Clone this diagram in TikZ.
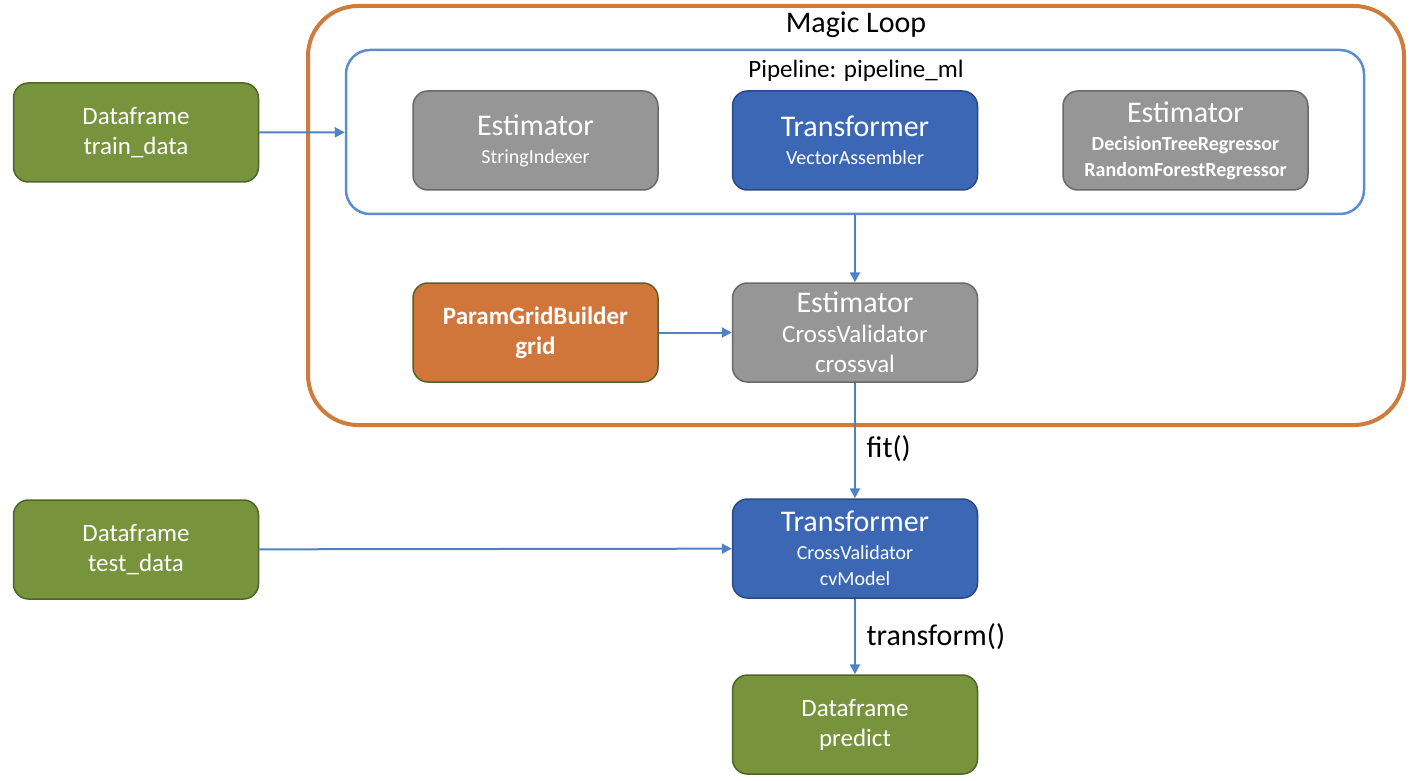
\documentclass[tikz,border=0pt]{standalone}
\usepackage{fontspec}
\setmainfont{Carlito}
\usetikzlibrary{arrows.meta}
\definecolor{dfgreen}{RGB}{119,147,60}
\definecolor{dfedge}{RGB}{80,100,40}
\definecolor{estgray}{RGB}{150,150,150}
\definecolor{estedge}{RGB}{105,105,105}
\definecolor{trblue}{RGB}{59,103,180}
\definecolor{tredge}{RGB}{42,72,130}
\definecolor{gridorange}{RGB}{208,118,58}
\definecolor{loopedge}{RGB}{208,122,60}
\definecolor{pipeedge}{RGB}{91,142,207}
\definecolor{flow}{RGB}{79,129,199}
\newcommand{\bigtxt}{\fontsize{15}{18}\selectfont}
\newcommand{\midtxt}{\fontsize{12.5}{15}\selectfont}
\newcommand{\smalltxt}{\fontsize{10}{12}\selectfont}
\begin{document}
\begin{tikzpicture}[x=0.5pt,y=-0.5pt,
  box/.style={draw, rounded corners=7.5pt, line width=0.75pt, minimum width=122.5pt,
    minimum height=49.5pt, align=center, text=white, font=\midtxt},
  frame/.style={draw=dfedge, fill=dfgreen, box},
  estbox/.style={draw=estedge, fill=estgray, box},
  trbox/.style={draw=tredge, fill=trblue, box},
  gridbox/.style={draw=dfedge, fill=gridorange, box},
  flow/.style={draw=flow, line width=1pt, -{Triangle[length=5pt,width=5pt]}}]
  \useasboundingbox (0,0) rectangle (1415,781);
  \node[draw=loopedge, line width=2pt, rounded corners=25pt, minimum width=548pt, minimum height=209.5pt] (loop) at (856,215.5) {};
  \node[font=\bigtxt] (looptitle) at (856,25) {Magic Loop};
  \node[draw=pipeedge, line width=1.25pt, rounded corners=12pt, fill=white, minimum width=509pt, minimum height=82pt] (pipe) at (855,132) {};
  \node[font=\midtxt] (pipetitle) at (856,71) {Pipeline: pipeline\_ml};
  \node[frame] (train) at (136,132.5) {Dataframe\\train\_data};
  \node[estbox] (indexer) at (535.5,140.5) {{\bigtxt Estimator}\\[-1pt]{\smalltxt StringIndexer}};
  \node[trbox] (assembler) at (855,140.5) {{\bigtxt Transformer}\\[-1pt]{\smalltxt VectorAssembler}};
  \node[estbox] (regressor) at (1185.5,140.5) {{\bigtxt Estimator}\\[-1pt]{\smalltxt\bfseries DecisionTreeRegressor}\\[-2pt]{\smalltxt\bfseries RandomForestRegressor}};
  \node[gridbox] (grid) at (535.5,332.5) {\bfseries ParamGridBuilder\\\bfseries grid};
  \node[estbox] (crossval) at (855,332.5) {{\bigtxt Estimator}\\{CrossValidator}\\{crossval}};
  \node[frame] (test) at (136,549.5) {Dataframe\\test\_data};
  \node[trbox] (cvmodel) at (855,548.5) {{\bigtxt Transformer}\\[-1pt]{\smalltxt CrossValidator}\\[-2pt]{\smalltxt cvModel}};
  \node[frame] (predict) at (855,724.5) {Dataframe\\predict};
  \draw[flow] (train) -- (pipe);
  \draw[flow] (pipe) -- (crossval);
  \draw[flow] (grid) -- (crossval);
  \draw[flow] (crossval) -- node[pos=0.57, right, font=\bigtxt, xshift=2pt] {fit()} (cvmodel);
  \draw[flow] (test) -- (cvmodel);
  \draw[flow] (cvmodel) -- node[right, font=\bigtxt, xshift=2pt] {transform()} (predict);
\end{tikzpicture}
\end{document}
